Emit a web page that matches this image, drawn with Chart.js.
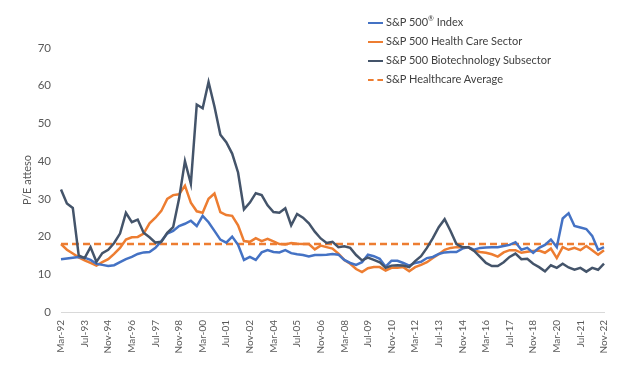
<!DOCTYPE html>
<html>
<head>
<meta charset="utf-8">
<script src="https://cdn.jsdelivr.net/npm/chart.js@4.4.0/dist/chart.umd.min.js"></script>
<style>
  body { margin: 0; background: #fff; }
  #wrap { position: relative; width: 640px; height: 366px; }
  #legend { position: absolute; left: 368px; top: 12px; font-family: Lato, "Open Sans", sans-serif; font-size: 11px; color: #404040; }
  #legend div { height: 19px; line-height: 19px; white-space: nowrap; }
  #legend span.k { display: inline-block; width: 15px; height: 0; vertical-align: middle; margin-right: 3px; border-top-width: 2.5px; }
  sup { font-size: 7px; line-height: 0; }
</style>
</head>
<body>
<div id="wrap">
  <canvas id="pe-chart" width="640" height="366"></canvas>
  <div id="legend"></div>
</div>
<script>
var dates = [
  "Mar-92", "Jul-92", "Nov-92", "Mar-93", "Jul-93", "Nov-93", "Mar-94", "Jul-94", "Nov-94",
  "Mar-95", "Jul-95", "Nov-95", "Mar-96", "Jul-96", "Nov-96", "Mar-97", "Jul-97", "Nov-97",
  "Mar-98", "Jul-98", "Nov-98", "Mar-99", "Jul-99", "Nov-99", "Mar-00", "Jul-00", "Nov-00",
  "Mar-01", "Jul-01", "Nov-01", "Mar-02", "Jul-02", "Nov-02", "Mar-03", "Jul-03", "Nov-03",
  "Mar-04", "Jul-04", "Nov-04", "Mar-05", "Jul-05", "Nov-05", "Mar-06", "Jul-06", "Nov-06",
  "Mar-07", "Jul-07", "Nov-07", "Mar-08", "Jul-08", "Nov-08", "Mar-09", "Jul-09", "Nov-09",
  "Mar-10", "Jul-10", "Nov-10", "Mar-11", "Jul-11", "Nov-11", "Mar-12", "Jul-12", "Nov-12",
  "Mar-13", "Jul-13", "Nov-13", "Mar-14", "Jul-14", "Nov-14", "Mar-15", "Jul-15", "Nov-15",
  "Mar-16", "Jul-16", "Nov-16", "Mar-17", "Jul-17", "Nov-17", "Mar-18", "Jul-18", "Nov-18",
  "Mar-19", "Jul-19", "Nov-19", "Mar-20", "Jul-20", "Nov-20", "Mar-21", "Jul-21", "Nov-21",
  "Mar-22", "Jul-22", "Nov-22"
];

var spIndex = [
  14, 14.2, 14.4, 14.6, 14.4, 13.8, 12.8, 12.5, 12.2,
  12.4, 13.2, 14, 14.6, 15.4, 15.8, 15.9, 17, 18.8,
  20.8, 21.5, 22.8, 23.4, 24.2, 22.8, 25.5, 23.8, 21.5,
  19.2, 18.4, 20, 17.8, 13.8, 14.6, 13.8, 15.8, 16.4,
  15.9, 15.8, 16.4, 15.6, 15.3, 15.1, 14.7, 15.1, 15.1,
  15.2, 15.4, 15.2, 13.8, 13, 12.5, 13.2, 15.2, 14.8,
  14.1, 12, 13.6, 13.6, 13, 12.3, 13, 13.3, 14.3,
  14.6, 15.4, 15.8, 15.9, 15.9, 16.8, 17.2, 16.5, 17,
  17.1, 17.2, 17.2, 17.5, 17.8, 18.5, 16.5, 17, 15.7,
  17, 17.8, 19.2, 17.2, 24.8, 26.2, 22.8, 22.4, 22,
  20.2, 16.5, 17.2
];

var healthCare = [
  18, 16.5, 15.5, 14.5, 13.7, 13, 12.3, 13.2, 14,
  15.4, 17, 19.2, 19.8, 19.9, 20.8, 23.5, 25, 26.8,
  30, 31, 31.2, 33.5, 29, 26.7, 26.3, 30, 31.4,
  26.5, 25.7, 25.5, 23, 18.8, 18.6, 19.6, 18.8, 19.4,
  18.7, 18, 17.9, 18.3, 18.1, 18, 18, 16.6, 17.6,
  17.2, 16.8, 15.5, 13.8, 12.8, 11.4, 10.6, 11.6, 11.9,
  11.9, 11, 11.7, 11.7, 11.9, 10.8, 11.9, 12.5, 13.2,
  14.3, 15.3, 16.5, 17, 17.2, 17.2, 17.2, 16.3, 15.9,
  15.7, 15.3, 14.7, 15.8, 16.4, 16.4, 15.7, 16, 16.2,
  16.3, 15.7, 16.8, 14.3, 17.2, 16.5, 17, 16.4, 17.5,
  16.4, 15.2, 16.4
];

var biotech = [
  32.5, 28.8, 27.6, 15, 14.3, 17.2, 13.3, 15.6, 16.5,
  18.3, 20.8, 26.3, 23.8, 24.5, 21, 19.8, 18.4, 18.6,
  21, 22.5, 30, 40, 34, 55, 54, 61, 54.5,
  47, 45, 42, 37, 27.2, 29, 31.5, 31, 28.3,
  26.5, 26.3, 27.5, 23, 26, 25, 23.5, 21.3, 19.5,
  18.3, 18.6, 17.2, 17.4, 17, 15.1, 13.7, 14.4, 13.8,
  13.2, 11.7, 12.3, 12.4, 12.3, 11.9, 13.5, 14.8, 17,
  19.6, 22.5, 24.6, 21.5, 18, 17.2, 17.2, 16.2, 14.6,
  13, 12.2, 12.2, 13.2, 14.6, 15.5, 14, 14.1, 12.8,
  11.9, 10.8, 12.4, 11.7, 12.8, 11.8, 11.2, 11.7, 10.7,
  11.7, 11.2, 12.8
];

var healthAvg = 18; // long-run average P/E, health care
var yTicks = [0, 10, 20, 30, 40, 50, 60, 70];

var blue = "#4472C4";
var orange = "#ED7D31";
var slate = "#44546A";

var datasets = [
  { label: "S&P 500® Index", data: spIndex, borderColor: blue },
  { label: "S&P 500 Health Care Sector", data: healthCare, borderColor: orange },
  { label: "S&P 500 Biotechnology Subsector", data: biotech, borderColor: slate },
  { label: "S&P Healthcare Average", data: dates.map(function () { return healthAvg; }), borderColor: orange, borderDash: [7, 4] }
];
datasets.forEach(function (d) {
  d.borderWidth = 2.5;
  d.pointRadius = 0;
  d.tension = 0;
  d.fill = false;
});
// biotech line sits on top of the others
datasets[2].order = -1;

var chart = new Chart("pe-chart", {
  type: "line",
  data: { labels: dates, datasets: datasets },
  options: {
    responsive: false,
    devicePixelRatio: 1,
    animation: false,
    layout: { padding: { top: 48, right: 36, left: 21, bottom: 0 } },
    plugins: {
      legend: { display: false },
      tooltip: { enabled: false }
    },
    scales: {
      x: {
        grid: { display: false, drawTicks: false },
        border: { color: "#D9D9D9", width: 1 },
        ticks: {
          autoSkip: false,
          maxRotation: 90,
          minRotation: 90,
          padding: 8,
          color: "#595959",
          font: { family: "Lato, 'Open Sans', sans-serif", size: 10 },
          callback: function (v, i) { return i % 4 === 0 ? dates[i] : null; }
        },
        afterFit: function (s) { s.height = 54; }
      },
      y: {
        min: 0,
        max: 70,
        afterBuildTicks: function (s) { s.ticks = yTicks.map(function (v) { return { value: v }; }); },
        grid: { display: false, drawTicks: false },
        border: { display: false },
        ticks: {
          padding: 10,
          color: "#595959",
          font: { family: "Lato, 'Open Sans', sans-serif", size: 11.5 }
        },
        title: {
          display: true,
          text: "P/E atteso",
          color: "#595959",
          padding: { top: 0, bottom: 0 },
          font: { family: "Lato, 'Open Sans', sans-serif", size: 11 }
        },
        afterFit: function (s) { s.width = 40; }
      }
    }
  }
});

// legend
var legend = document.getElementById("legend");
datasets.forEach(function (d) {
  var row = document.createElement("div");
  var key = document.createElement("span");
  key.className = "k";
  key.style.borderTopColor = d.borderColor;
  key.style.borderTopStyle = d.borderDash ? "dashed" : "solid";
  row.appendChild(key);
  var txt = document.createElement("span");
  txt.innerHTML = d.label.replace("&", "&amp;").replace("®", "<sup>®</sup>");
  row.appendChild(txt);
  legend.appendChild(row);
});
</script>
</body>
</html>
